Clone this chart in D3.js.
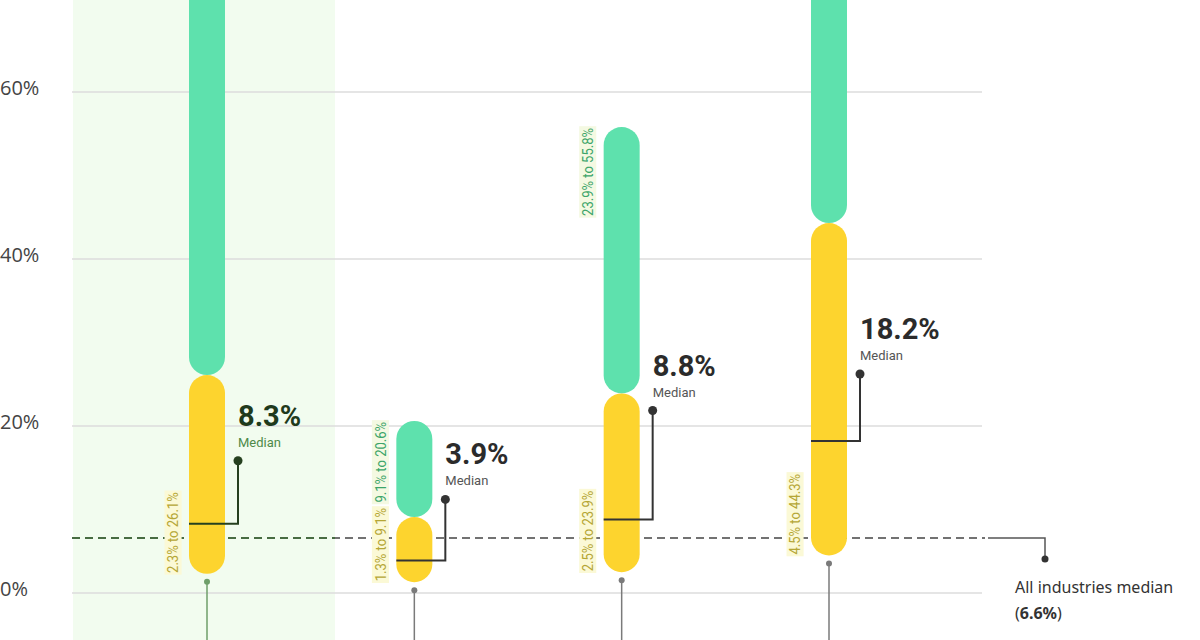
<!DOCTYPE html>
<html>
<head>
<meta charset="utf-8">
<script src="https://cdn.jsdelivr.net/npm/d3@7"></script>
<style>
  body { margin: 0; background: #fff; }
  svg { display: block; }
  .cond { font-family: Roboto, 'DejaVu Sans', sans-serif; }
</style>
</head>
<body>
<svg id="chart" width="1200" height="640"></svg>
<script>
// data
const groups = ["Group 1", "Group 2", "Group 3", "Group 4"];
const lowStart = [2.3, 1.3, 2.5, 4.5];
const lowEnd = [26.1, 9.1, 23.9, 44.3];
const highEnd = [92.0, 20.6, 55.8, 96.0];
const medians = [8.3, 3.9, 8.8, 18.2];
const allMedian = 6.6;
const yTicks = [0, 20, 40, 60];

// layout only
const labelLift = [63, 61, 109, 67];
const highlighted = 0;

var svg = d3.select("#chart");
var W = 1200, H = 640;
var barW = 36;

var y = d3.scaleLinear().domain([0, 60]).range([593, 92]);
var x = d3.scalePoint().domain(groups).range([207, 829]);

// highlight band
svg.append("rect")
    .attr("x", 73).attr("y", 0)
    .attr("width", 262).attr("height", H)
    .attr("fill", "#f2fcef");

// grid
svg.append("g").selectAll("line")
    .data(yTicks).join("line")
    .attr("x1", 72).attr("x2", 982)
    .attr("y1", d => y(d)).attr("y2", d => y(d))
    .attr("stroke", "#dcdcdc").attr("stroke-width", 1.5);

svg.append("g").selectAll("text")
    .data(yTicks).join("text")
    .attr("x", 0).attr("y", d => y(d) + 3)
    .text(d => d + "%")
    .attr("font-family", "'Open Sans', sans-serif")
    .attr("font-size", 20)
    .attr("fill", "#444");

// stems under each bar
var stems = svg.append("g");
groups.forEach(function (g, i) {
    var cx = x(g);
    var col = i == highlighted ? "#6f9f6a" : "#7a7a7a";
    var top = y(lowStart[i]) + 8;
    stems.append("line")
        .attr("x1", cx).attr("x2", cx)
        .attr("y1", top).attr("y2", H)
        .attr("stroke", col).attr("stroke-width", 1.5);
    stems.append("circle")
        .attr("cx", cx).attr("cy", top).attr("r", 3)
        .attr("fill", col);
});

// all-industries median line
var my = y(allMedian);
svg.append("line")
    .attr("x1", 72).attr("x2", 985)
    .attr("y1", my).attr("y2", my)
    .attr("stroke", "#444").attr("stroke-width", 1.5)
    .attr("stroke-dasharray", "8,5");
svg.append("line")
    .attr("x1", 72).attr("x2", 335)
    .attr("y1", my).attr("y2", my)
    .attr("stroke", "#3d6b34").attr("stroke-width", 1.5)
    .attr("stroke-dasharray", "8,5");
svg.append("path")
    .attr("d", `M988,${my}H1045V${my + 21}`)
    .attr("fill", "none").attr("stroke", "#555").attr("stroke-width", 1.5);
svg.append("circle")
    .attr("cx", 1045).attr("cy", my + 21).attr("r", 3.5).attr("fill", "#333");

var note = svg.append("g")
    .attr("font-family", "'Noto Sans', 'Open Sans', sans-serif")
    .attr("font-size", 16).attr("fill", "#333");
note.append("text").attr("x", 1015).attr("y", 593).text("All industries median");
var t2 = note.append("text").attr("x", 1015).attr("y", 619);
t2.append("tspan").text("(");
t2.append("tspan").attr("font-weight", "bold").text(allMedian.toFixed(1) + "%");
t2.append("tspan").text(")");

// bars
var bars = svg.append("g");
groups.forEach(function (g, i) {
    var cx = x(g);
    bars.append("rect")
        .attr("x", cx - barW / 2).attr("width", barW)
        .attr("y", y(highEnd[i])).attr("height", y(lowEnd[i]) - y(highEnd[i]))
        .attr("rx", barW / 2)
        .attr("fill", "#5ee1ad");
    bars.append("rect")
        .attr("x", cx - barW / 2).attr("width", barW)
        .attr("y", y(lowEnd[i])).attr("height", y(lowStart[i]) - y(lowEnd[i]))
        .attr("rx", barW / 2)
        .attr("fill", "#fdd42e");
});

// range labels (rotated, left of bar, squeezed a bit like a condensed face)
function rangeLabel(cx, yPos, txt, anchor, fg, bg) {
    var gl = svg.append("g")
        .attr("transform", `translate(${cx - barW / 2 - 16},${yPos}) rotate(-90) scale(0.87,1)`);
    var r = gl.append("rect").attr("fill", bg);
    var t = gl.append("text")
        .attr("class", "cond")
        .attr("x", anchor == "start" ? 1 : -1).attr("y", 0)
        .attr("dy", "0.36em")
        .attr("text-anchor", anchor)
        .attr("font-size", 15)
        .attr("fill", fg)
        .text(txt);
    var bb = t.node().getBBox();
    r.attr("x", bb.x - 2).attr("y", bb.y)
        .attr("width", bb.width + 4).attr("height", bb.height);
}

groups.forEach(function (g, i) {
    var cx = x(g);
    rangeLabel(cx, y(lowStart[i]), `${lowStart[i]}% to ${lowEnd[i]}%`, "start", "#b5a635", "#fbf9d6");
    // labels for ranges running past the top edge are out of view
    if (y(highEnd[i]) > 0)
        rangeLabel(cx, y(highEnd[i]), `${lowEnd[i]}% to ${highEnd[i]}%`, "end", "#3da56a", "#f4f9e2");
});

// median callouts
groups.forEach(function (g, i) {
    var cx = x(g);
    var hl = i == highlighted;
    var lineCol = hl ? "#26401f" : "#333";
    var ym = y(medians[i]);
    var lx = cx + 31;
    var dotY = ym - labelLift[i];
    svg.append("path")
        .attr("d", `M${cx - barW / 2},${ym}H${lx}V${dotY}`)
        .attr("fill", "none").attr("stroke", lineCol).attr("stroke-width", 2);
    svg.append("circle")
        .attr("cx", lx).attr("cy", dotY).attr("r", 4.5).attr("fill", lineCol);
    svg.append("text")
        .attr("class", "cond")
        .attr("x", lx).attr("y", dotY - 35)
        .attr("font-weight", "bold")
        .attr("font-size", 29)
        .attr("fill", hl ? "#1f3a1c" : "#2b2b2b")
        .text(medians[i].toFixed(1) + "%");
    svg.append("text")
        .attr("class", "cond")
        .attr("x", lx).attr("y", dotY - 14)
        .attr("font-size", 13)
        .attr("fill", hl ? "#4f8a49" : "#555")
        .text("Median");
});
</script>
</body>
</html>
